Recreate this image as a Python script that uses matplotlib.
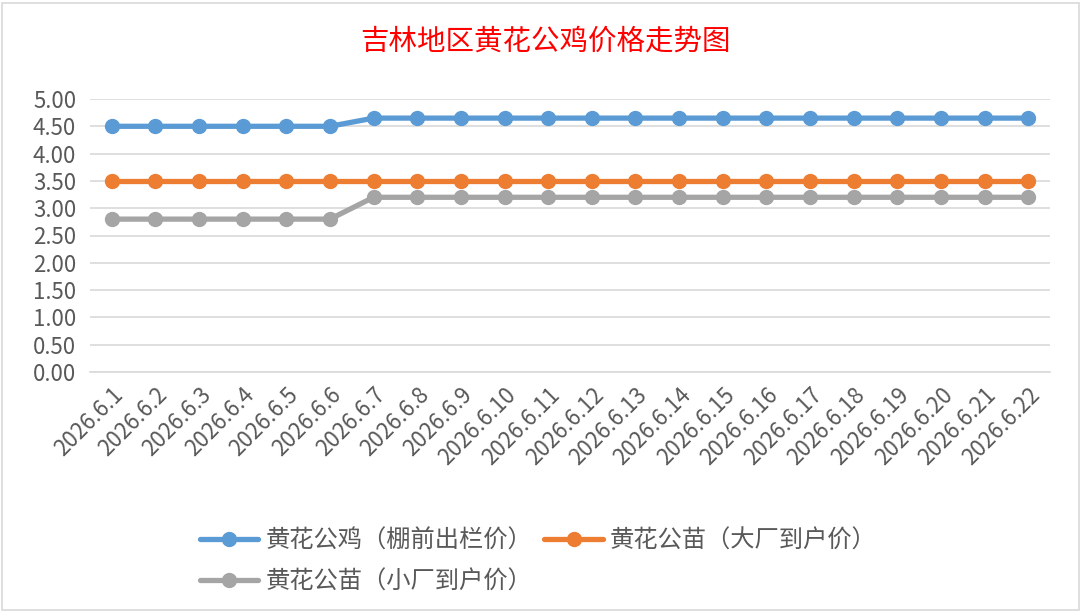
import matplotlib
matplotlib.use("Agg")
import matplotlib.pyplot as plt
from matplotlib.patches import Rectangle

plt.rcParams['font.family'] = ['Noto Sans CJK SC', 'DejaVu Sans']

dates = [f"2026.6.{d}" for d in range(1, 23)]
rooster = [4.50]*6 + [4.65]*16
chick_big = [3.50]*22
chick_small = [2.80]*6 + [3.20]*16
names = ["黄花公鸡（棚前出栏价）", "黄花公苗（大厂到户价）", "黄花公苗（小厂到户价）"]
colors = ["#5B9BD5", "#ED7D31", "#A5A5A5"]
title = "吉林地区黄花公鸡价格走势图"

fig = plt.figure(figsize=(10.88, 6.16), dpi=100)
fig.patches.append(Rectangle((0.002, 0.01), 0.99, 0.985, transform=fig.transFigure,
                             fill=False, edgecolor="#D9D9D9", linewidth=1.2))
ax = fig.add_axes([90/1088, 244/616, 960/1088, 273/616])
x = list(range(len(dates)))
handles = []
for ys, n, c in zip([rooster, chick_big, chick_small], names, colors):
    h, = ax.plot(x, ys, color=c, linewidth=3.8, marker='o', markersize=10, label=n,
                 solid_capstyle='round')
    handles.append(h)
ax.set_xlim(-0.5, len(dates)-0.5)
ax.set_ylim(0, 5)
ax.set_yticks([i*0.5 for i in range(11)])
ax.set_yticklabels([f"{i*0.5:.2f}" for i in range(11)])
ax.grid(axis='y', color='#D9D9D9', linewidth=1.2)
ax.set_axisbelow(True)
for s in ['top', 'right', 'left']:
    ax.spines[s].set_visible(False)
ax.spines['bottom'].set_color('#D9D9D9')
ax.spines['bottom'].set_linewidth(1.2)
ax.tick_params(axis='both', length=0, labelsize=16, labelcolor='#595959', pad=10)
ax.set_xticks(x)
ax.set_xticklabels(dates, rotation=45, ha='right', va='top', rotation_mode='anchor')
ax.tick_params(axis='x', pad=8)
fig.text(545/1088, 1-42/616, title, color='red', fontsize=20.5, ha='center', va='center')
order = [0, 2, 1]
fig.legend([handles[i] for i in order], [names[i] for i in order],
           loc='upper left', bbox_to_anchor=(178/1088, 1-506/616), ncol=2,
           frameon=False, fontsize=17.5, labelcolor='#595959', handlelength=2.4,
           columnspacing=0.5, handletextpad=0.3, labelspacing=0.6)
fig.savefig("out.png", dpi=100)
